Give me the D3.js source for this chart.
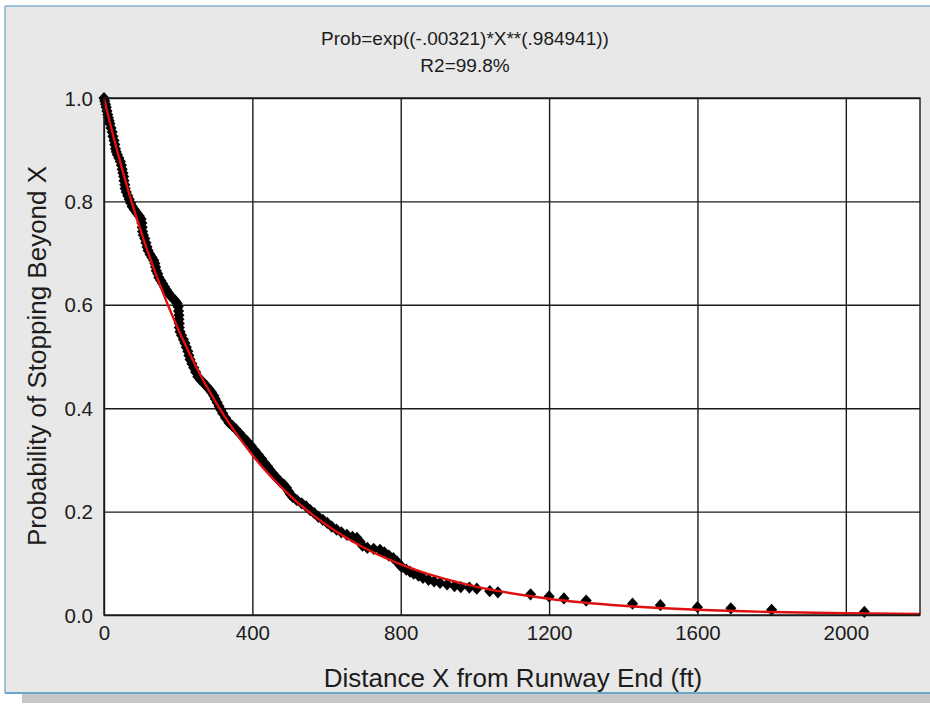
<!DOCTYPE html>
<html><head><meta charset="utf-8">
<script src="https://cdn.jsdelivr.net/npm/d3@7"></script>
<style>
html,body{margin:0;padding:0;background:#fff;}
svg text{font-family:"Liberation Sans",Arial,sans-serif;fill:#1c1c1c;}
</style></head><body>
<svg id="chart" width="930" height="715"></svg>
<script>
const titleLines = ["Prob=exp((-.00321)*X**(.984941))", "R2=99.8%"];
const xLabel = "Distance X from Runway End (ft)";
const yLabel = "Probability of Stopping Beyond X";
const xTicks = [0, 400, 800, 1200, 1600, 2000];
const yTicks = [0, 0.2, 0.4, 0.6, 0.8, 1.0];

// observed points (distance beyond runway end, empirical probability)
const distanceFt = [
  0, 2, 4, 6, 8, 10, 12, 14, 16, 19,
  22, 24, 27, 29, 31, 33, 36, 40, 44, 47,
  49, 51, 53, 54, 56, 57, 60, 64, 68, 72,
  76, 82, 88, 95, 100, 102, 103, 104, 106, 110,
  113, 116, 119, 124, 129, 134, 137, 139, 141, 145,
  148, 153, 158, 163, 168, 174, 180, 186, 192, 197,
  200, 201, 202, 202, 203, 203, 205, 209, 214, 218,
  222, 226, 229, 232, 237, 242, 247, 253, 260, 268,
  276, 283, 290, 296, 300, 305, 310, 315, 320, 328,
  337, 346, 356, 365, 375, 386, 397, 407, 416, 425,
  433, 441, 447, 455, 465, 475, 485, 492, 498, 503,
  509, 520, 533, 545, 556, 567, 578, 590, 602, 614,
  627, 640, 655, 670, 682, 690, 697, 710, 727, 744,
  756, 768, 780, 790, 797, 803, 815, 825, 835, 848,
  860, 875, 890, 906, 925, 945, 962, 985, 1005, 1040,
  1062, 1150, 1200, 1240, 1300, 1425, 1500, 1600, 1690, 1800,
  2050
];
const probBeyond = [
  1.000, 0.994, 0.988, 0.982, 0.975, 0.968, 0.962, 0.956, 0.950, 0.942,
  0.934, 0.926, 0.918, 0.910, 0.902, 0.896, 0.890, 0.884, 0.877, 0.870,
  0.862, 0.855, 0.848, 0.840, 0.832, 0.825, 0.818, 0.811, 0.804, 0.797,
  0.790, 0.784, 0.778, 0.772, 0.766, 0.758, 0.750, 0.742, 0.735, 0.728,
  0.720, 0.712, 0.705, 0.698, 0.692, 0.686, 0.680, 0.673, 0.666, 0.660,
  0.653, 0.647, 0.641, 0.635, 0.629, 0.623, 0.617, 0.612, 0.608, 0.603,
  0.596, 0.588, 0.580, 0.572, 0.564, 0.556, 0.548, 0.541, 0.533, 0.526,
  0.518, 0.510, 0.502, 0.494, 0.486, 0.478, 0.470, 0.461, 0.455, 0.449,
  0.443, 0.437, 0.431, 0.424, 0.418, 0.411, 0.404, 0.397, 0.390, 0.381,
  0.372, 0.366, 0.359, 0.352, 0.344, 0.336, 0.327, 0.318, 0.310, 0.302,
  0.294, 0.287, 0.281, 0.274, 0.266, 0.258, 0.252, 0.246, 0.239, 0.233,
  0.228, 0.222, 0.216, 0.210, 0.203, 0.197, 0.190, 0.184, 0.178, 0.171,
  0.165, 0.160, 0.155, 0.151, 0.149, 0.142, 0.134, 0.130, 0.128, 0.126,
  0.121, 0.115, 0.110, 0.103, 0.097, 0.093, 0.088, 0.084, 0.080, 0.076,
  0.072, 0.068, 0.065, 0.062, 0.059, 0.056, 0.054, 0.053, 0.051, 0.046,
  0.044, 0.040, 0.036, 0.032, 0.028, 0.022, 0.019, 0.015, 0.013, 0.010,
  0.006
];

// fitted curve values
const fitX = [0, 2, 5, 10, 25, 50, 75, 100, 150, 200, 250, 300, 350, 400, 500, 600, 700, 800, 900, 1000, 1200, 1400, 1600, 1800, 2000, 2200];
const fitProb = [1, 0.9937, 0.9845, 0.9695, 0.9264, 0.8596, 0.7980, 0.7412, 0.6399, 0.5528, 0.4778, 0.4132, 0.3575, 0.3094, 0.2319, 0.1740, 0.1306, 0.0981, 0.0737, 0.0554, 0.0314, 0.0178, 0.0101, 0.0057, 0.0033, 0.0019];

const svg = d3.select("#chart");
const W = 930, H = 715;
const plot = {left: 104, right: 920, top: 98, bottom: 615};

// panel frame
svg.append("rect").attr("x", 22).attr("y", 694).attr("width", W - 22).attr("height", 9).attr("fill", "#c6c6c6");
svg.append("rect").attr("x", 5).attr("y", 6).attr("width", W - 5).attr("height", 687).attr("fill", "#e8e8e8");
svg.append("line").attr("x1", 5).attr("x2", W).attr("y1", 6).attr("y2", 6).attr("stroke", "#7fb3cf").attr("stroke-width", 1.5);
svg.append("line").attr("x1", 5).attr("x2", 5).attr("y1", 6).attr("y2", 693).attr("stroke", "#7fb3cf").attr("stroke-width", 1.5);
svg.append("line").attr("x1", 5).attr("x2", W).attr("y1", 693).attr("y2", 693).attr("stroke", "#6aa6c9").attr("stroke-width", 2);

const x = d3.scaleLinear().domain([0, 2200]).range([plot.left, plot.right]);
const y = d3.scaleLinear().domain([0, 1]).range([plot.bottom, plot.top]);

svg.append("rect").attr("x", plot.left).attr("y", plot.top)
  .attr("width", plot.right - plot.left).attr("height", plot.bottom - plot.top).attr("fill", "#fff");

// grid via axes
const gx = svg.append("g").attr("transform", `translate(0,${plot.bottom})`)
  .call(d3.axisBottom(x).tickValues(xTicks).tickSize(-(plot.bottom - plot.top)).tickFormat(d3.format("d")).tickPadding(13));
const gy = svg.append("g").attr("transform", `translate(${plot.left},0)`)
  .call(d3.axisLeft(y).tickValues(yTicks).tickSize(-(plot.right - plot.left)).tickFormat(d3.format(".1f")).tickPadding(11));
[gx, gy].forEach(g => {
  g.select(".domain").remove();
  g.selectAll(".tick line").attr("stroke", "#1a1a1a").attr("stroke-width", 1.4);
  g.selectAll(".tick text").attr("font-size", 20.5).attr("fill", "#1c1c1c")
    .style("font-family", '"Liberation Sans", Arial, sans-serif');
});
gy.selectAll(".tick text").attr("dy", "0.35em");
gx.selectAll(".tick text").attr("dy", "0.6em");

// points
const diamond = {
  draw(ctx, size) {
    const r = Math.sqrt(size / 2);
    ctx.moveTo(0, -r * 1.1);
    ctx.lineTo(r, 0);
    ctx.lineTo(0, r * 1.1);
    ctx.lineTo(-r, 0);
    ctx.closePath();
  }
};
const pts = distanceFt.map((d, i) => ({d, p: probBeyond[i]}));
svg.append("g").selectAll("path").data(pts).join("path")
  .attr("transform", d => `translate(${x(d.d)},${y(d.p)})`)
  .attr("d", d3.symbol().type(diamond).size(62))
  .attr("fill", "#000");

// fitted line
const fit = fitX.map((d, i) => ({d, p: fitProb[i]}));
svg.append("path").datum(fit)
  .attr("d", d3.line().x(d => x(d.d)).y(d => y(d.p)).curve(d3.curveMonotoneX))
  .attr("fill", "none").attr("stroke", "#e01010").attr("stroke-width", 2.4);

// plot border
svg.append("rect").attr("x", plot.left).attr("y", plot.top)
  .attr("width", plot.right - plot.left).attr("height", plot.bottom - plot.top)
  .attr("fill", "none").attr("stroke", "#1a1a1a").attr("stroke-width", 1.4);

// titles
svg.append("text").attr("x", 465).attr("y", 45).attr("text-anchor", "middle").attr("font-size", 19).text(titleLines[0]);
svg.append("text").attr("x", 465).attr("y", 72).attr("text-anchor", "middle").attr("font-size", 19).text(titleLines[1]);
svg.append("text").attr("x", 513).attr("y", 687).attr("text-anchor", "middle").attr("font-size", 26).text(xLabel);
svg.append("text").attr("transform", `translate(46,356) rotate(-90)`).attr("text-anchor", "middle").attr("font-size", 26).text(yLabel);
</script>
</body></html>
